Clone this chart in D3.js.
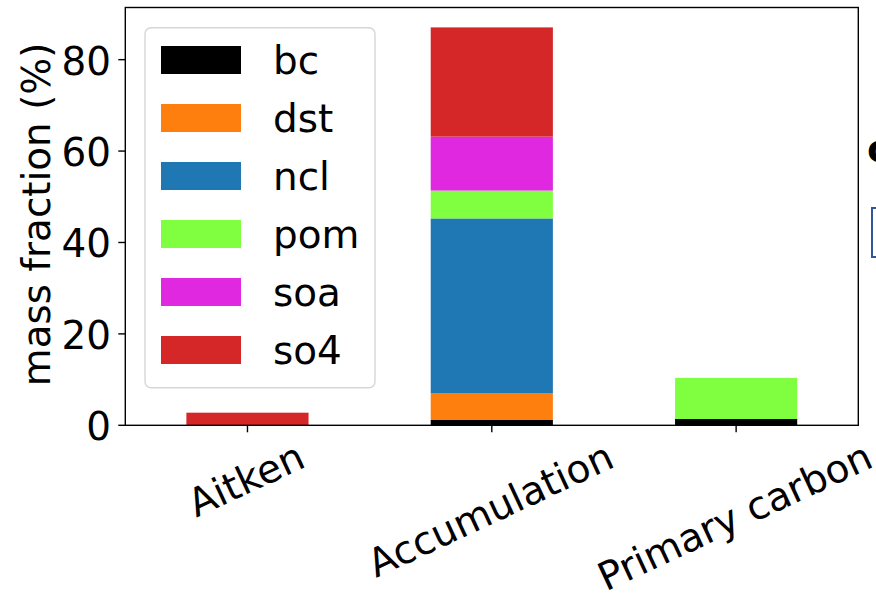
<!DOCTYPE html>
<html>
<head>
<meta charset="utf-8">
<script src="https://cdn.jsdelivr.net/npm/d3@7"></script>
<style>
  html, body { margin: 0; padding: 0; background: #fff; }
  svg { display: block; font-family: "DejaVu Sans", sans-serif; }
</style>
</head>
<body>
<svg id="chart" width="876" height="594"></svg>
<script>
// ---- data ----
const categories = ["Aitken", "Accumulation", "Primary carbon"];
const species = ["bc", "dst", "ncl", "pom", "soa", "so4"];
const bc  = [0,    1.16, 1.38];
const dst = [0,    5.9,  0];
const ncl = [0,    38.2, 0];
const pom = [0,    6.1,  9.0];
const soa = [0,    11.8, 0];
const so4 = [2.76, 23.9, 0];
const yTicks = [0, 20, 40, 60, 80];
const yLabel = "mass fraction (%)";
const colors = ["#000000", "#ff7f0e", "#1f77b4", "#80ff40", "#e028e0", "#d62728"];

const seriesValues = { bc, dst, ncl, pom, soa, so4 };
const rows = categories.map((c, i) => {
  const r = { category: c };
  species.forEach(s => r[s] = seriesValues[s][i]);
  return r;
});

// ---- layout ----
const L = 125.3, R = 858.3, T = 7.5, B = 425.3;
const FS = 38.9;
const svg = d3.select("#chart");

const x = d3.scaleBand().domain(categories).range([L, R]).paddingInner(0.5).paddingOuter(0.25);
const yMax = d3.max(rows, r => d3.sum(species, s => r[s])) * 1.05;
const y = d3.scaleLinear().domain([0, yMax]).range([B, T]);
const color = d3.scaleOrdinal().domain(species).range(colors);

const stacked = d3.stack().keys(species)(rows);

// bars
svg.append("g").selectAll("g").data(stacked).join("g")
  .attr("fill", d => color(d.key))
  .selectAll("rect").data(d => d).join("rect")
  .attr("x", d => x(d.data.category))
  .attr("width", x.bandwidth())
  .attr("y", d => y(d[1]))
  .attr("height", d => Math.max(0, y(d[0]) - y(d[1])));

// spines
svg.append("rect").attr("x", L).attr("y", T).attr("width", R - L).attr("height", B - T)
  .attr("fill", "none").attr("stroke", "#000").attr("stroke-width", 1.4);

// y axis ticks
const yAxis = svg.append("g");
yTicks.forEach(t => {
  yAxis.append("line").attr("x1", L - 7).attr("x2", L).attr("y1", y(t)).attr("y2", y(t))
    .attr("stroke", "#000").attr("stroke-width", 1.4);
  yAxis.append("text").attr("x", L - 14.3).attr("y", y(t) + 15)
    .attr("text-anchor", "end").attr("font-size", FS).attr("fill", "#000").text(t);
});

// y label
svg.append("text")
  .attr("transform", `translate(50,${(T + B) / 2 - 2}) rotate(-90)`)
  .attr("text-anchor", "middle").attr("font-size", FS).attr("fill", "#000")
  .text(yLabel);

// x ticks and rotated labels
const xAxis = svg.append("g");
const angle = 25 * Math.PI / 180;
categories.forEach(c => {
  const cx = x(c) + x.bandwidth() / 2;
  xAxis.append("line").attr("x1", cx).attr("x2", cx).attr("y1", B).attr("y2", B + 7)
    .attr("stroke", "#000").attr("stroke-width", 1.4);
  const t = xAxis.append("text").attr("font-size", FS).attr("fill", "#000")
    .attr("text-anchor", "middle").text(c);
  const w = t.node().getComputedTextLength();
  const h = FS * 0.99;
  const H = w * Math.sin(angle) + h * Math.cos(angle);
  const cy = B + 7 + 7 + H / 2;
  t.attr("transform", `translate(${cx},${cy}) rotate(-25)`).attr("dy", (FS * 0.265).toFixed(2));
});

// legend
const lg = svg.append("g");
lg.append("rect").attr("x", 145).attr("y", 27.7).attr("width", 230).attr("height", 360)
  .attr("rx", 6).attr("fill", "#fff").attr("fill-opacity", 0.8)
  .attr("stroke", "#d6d6d6").attr("stroke-width", 1.4);
species.forEach((s, i) => {
  const cy = 60 + 58 * i;
  lg.append("rect").attr("x", 161).attr("y", cy - 14).attr("width", 80).attr("height", 28)
    .attr("fill", color(s));
  lg.append("text").attr("x", 273).attr("y", cy + 13.5).attr("font-size", FS)
    .attr("fill", "#000").text(s);
});

// partial elements of neighbouring panel (cut off at right edge)
svg.append("text").attr("x", 867).attr("y", 162).attr("font-size", FS)
  .attr("font-weight", "bold").attr("fill", "#000").text("c");
svg.append("rect").attr("x", 872).attr("y", 208).attr("width", 20).attr("height", 49)
  .attr("fill", "none").attr("stroke", "#34559a").attr("stroke-width", 2);
</script>
</body>
</html>
